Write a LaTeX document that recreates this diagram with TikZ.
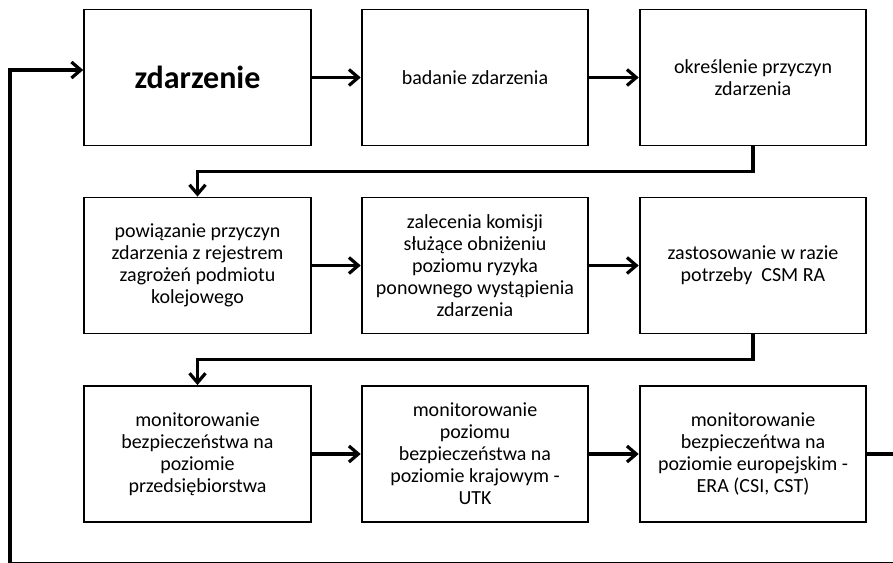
\documentclass[tikz,border=0pt]{standalone}
\usepackage{fontspec}
\setmainfont{Carlito}
\usetikzlibrary{arrows.meta}

\begin{document}
\begin{tikzpicture}[
  x=0.75pt, y=-0.75pt,
  box/.style={draw, rectangle, line width=1.4pt, minimum width=170pt, minimum height=102pt, inner sep=2pt, font=\fontsize{15}{16.5}\selectfont, align=center},
  flow/.style={-{Straight Barb[length=7pt, width=12pt]}, line width=2.4pt}
]
\useasboundingbox (0,0) rectangle (893,563);

% First row
\node[box, font=\bfseries\fontsize{24}{28}\selectfont] (zdarz) at (197.5, 77.5) {zdarzenie};
\node[box] (badanie) at (475, 77.5) {badanie zdarzenia};
\node[box] (przyczyny) at (753, 77.5) {określenie przyczyn\\zdarzenia};

% Second row
\node[box] (rejestr) at (197.5, 265.5) {powiązanie przyczyn\\zdarzenia z rejestrem\\zagrożeń podmiotu\\kolejowego};
\node[box] (zalecenia) at (475, 265.5) {zalecenia komisji\\służące obniżeniu\\poziomu ryzyka\\ponownego wystąpienia\\zdarzenia};
\node[box] (csm) at (753, 265.5) {zastosowanie w razie\\potrzeby~ CSM RA};

% Third row
\node[box] (firma) at (197.5, 454) {monitorowanie\\bezpieczeństwa na\\poziomie\\przedsiębiorstwa};
\node[box] (utk) at (475, 454) {monitorowanie\\poziomu\\bezpieczeństwa na\\poziomie krajowym -\\UTK};
\node[box] (era) at (753, 454) {monitorowanie\\bezpieczeńtwa na\\poziomie europejskim -\\ERA (CSI, CST)};

% Arrows inside rows
\draw[flow] (zdarz) -- (badanie);
\draw[flow] (badanie) -- (przyczyny);
\draw[flow] (rejestr) -- (zalecenia);
\draw[flow] (zalecenia) -- (csm);
\draw[flow] (firma) -- (utk);
\draw[flow] (utk) -- (era);

% Row changes
\draw[flow] (przyczyny.south) -- ++(0, 25) -| (rejestr.north);
\draw[flow] (csm.south) -- ++(0, 25) -| (firma.north);

% Return loop
\coordinate (rt) at (895, 564);
\coordinate (lb) at (10, 564);
\coordinate (lt) at (10, 70);
\draw[flow] (era.east) -| (rt) -- (lb) -- (lt) -- (lt -| zdarz.west);

\end{tikzpicture}
\end{document}
